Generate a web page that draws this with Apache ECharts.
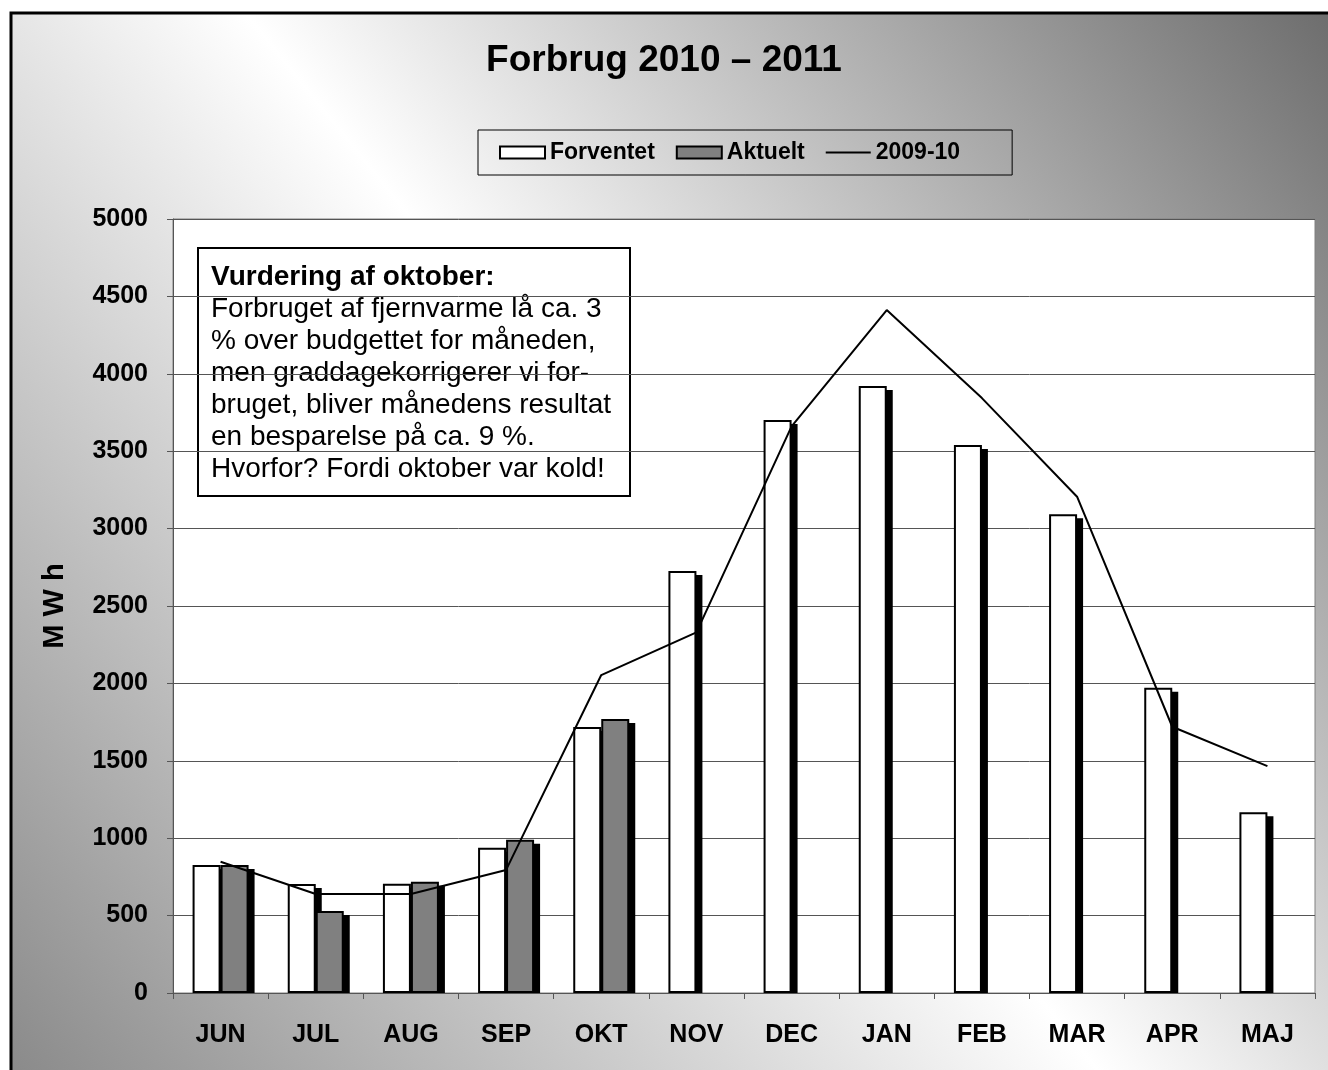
<!DOCTYPE html>
<html>
<head>
<meta charset="utf-8">
<script src="https://cdn.jsdelivr.net/npm/echarts@6/dist/echarts.min.js"></script>
<style>
html,body{margin:0;padding:0;background:#fff;}
#chart{width:1328px;height:1070px;}
</style>
</head>
<body>
<div id="chart"></div>
<script>
const categories = ['JUN','JUL','AUG','SEP','OKT','NOV','DEC','JAN','FEB','MAR','APR','MAJ'];
const forventet = [827, 704, 706, 939, 1718, 2726, 3702, 3921, 3540, 3092, 1972, 1167];
const aktuelt = [827, 530, 719, 990, 1770, null, null, null, null, null, null, null];
const prevYear = [848, 640, 640, 795, 2054, 2330, 3660, 4412, 3843, 3206, 1720, 1466];
const yTicks = [0, 500, 1000, 1500, 2000, 2500, 3000, 3500, 4000, 4500, 5000];

const FONT = 'Liberation Sans, Arial, sans-serif';
const BAR_W = 28, BORDER = 2, SH = 5;
const chart = echarts.init(document.getElementById('chart'), null, {renderer: 'canvas'});

const shadowData = categories.map((c, i) => [i, forventet[i], aktuelt[i] == null ? 0 : aktuelt[i]]);

chart.setOption({
  animation: false,
  backgroundColor: '#ffffff',
  graphic: [
    {
      type: 'rect', z: -100, silent: true,
      shape: {x: 11, y: 13, width: 1340, height: 1080},
      style: {
        fill: {type: 'linear', x: 1, y: 0, x2: 0, y2: 1, colorStops: [
          {offset: 0, color: '#6a6a6a'},
          {offset: 0.5, color: '#ffffff'},
          {offset: 1, color: '#888888'}
        ]},
        stroke: '#000', lineWidth: 3
      }
    },
    {
      type: 'group', left: 197, top: 247, z: 100,
      children: [
        {type: 'rect', shape: {x: 0, y: 0, width: 432, height: 248},
         style: {fill: '#fff', stroke: '#000', lineWidth: 2}},
        {type: 'text', x: 13, y: 13,
         style: {text: 'Vurdering af oktober:', font: 'bold 28px ' + FONT, fill: '#000',
                 lineHeight: 32, verticalAlign: 'top'}},
        {type: 'text', x: 13, y: 45,
         style: {text: 'Forbruget af fjernvarme lå ca. 3\n% over budgettet for måneden,\nmen graddagekorrigerer vi for-\nbruget, bliver månedens resultat\nen besparelse på ca. 9 %.\nHvorfor? Fordi oktober var kold!',
                 font: '28px ' + FONT, fill: '#000', lineHeight: 32, verticalAlign: 'top'}}
      ]
    }
  ],
  title: {
    text: 'Forbrug 2010 – 2011',
    left: 'center', top: 42, padding: 0,
    textStyle: {fontFamily: FONT, fontWeight: 'bold', fontSize: 37, color: '#000'}
  },
  legend: {
    left: 478, top: 130,
    padding: [11, 52, 11, 21],
    borderColor: '#000', borderWidth: 1,
    itemWidth: 45, itemHeight: 12, itemGap: 21,
    symbolKeepAspect: true,
    textStyle: {fontFamily: FONT, fontWeight: 'bold', fontSize: 23, color: '#000'},
    data: [
      {name: 'Forventet', icon: 'rect', itemStyle: {color: '#fff', borderColor: '#000', borderWidth: 2}},
      {name: 'Aktuelt', icon: 'rect', itemStyle: {color: '#808080', borderColor: '#000', borderWidth: 2}},
      {name: '2009-10', icon: 'path://M0,0L50,0L50,2L0,2Z', itemStyle: {color: '#000'}}
    ]
  },
  grid: {
    left: 173, right: 13, top: 219, bottom: 77,
    show: true, backgroundColor: '#fff', borderColor: '#808080', borderWidth: 1
  },
  xAxis: {
    type: 'category', data: categories,
    axisLine: {show: true, lineStyle: {color: '#555', width: 1}},
    axisTick: {show: true, length: 6, lineStyle: {color: '#555'}},
    axisLabel: {fontFamily: FONT, fontWeight: 'bold', fontSize: 25, color: '#000', margin: 30},
    splitLine: {show: false}
  },
  yAxis: {
    type: 'value', min: 0, max: 5000, interval: 500,
    name: 'M W h', nameLocation: 'middle', nameGap: 104, nameRotate: 90,
    nameTextStyle: {fontFamily: FONT, fontWeight: 'bold', fontSize: 29, color: '#000'},
    axisLine: {show: true, lineStyle: {color: '#555', width: 1}},
    axisTick: {show: true, length: 6, lineStyle: {color: '#555'}},
    axisLabel: {fontFamily: FONT, fontWeight: 'bold', fontSize: 25, color: '#000', margin: 25,
      formatter: v => yTicks.includes(v) ? String(v) : ''},
    splitLine: {show: true, lineStyle: {color: '#555', width: 1}}
  },
  series: [
    {
      name: 'skygge', type: 'custom', silent: true, z: 1,
      data: shadowData,
      encode: {x: 0, y: 1},
      renderItem: function (params, api) {
        const i = api.value(0);
        const base = api.coord([i, 0]);
        const children = [];
        [1, 2].forEach(function (dim, k) {
          const v = api.value(dim);
          if (!(v > 0)) return;
          const top = api.coord([i, v])[1];
          const x = base[0] - BAR_W + k * BAR_W - BORDER / 2 + SH;
          const y = top - BORDER / 2 + SH;
          children.push({type: 'rect', shape: {x: x, y: y, width: BAR_W + BORDER, height: base[1] - y},
                         style: {fill: '#000'}});
        });
        return {type: 'group', children: children};
      }
    },
    {
      name: 'Forventet', type: 'bar', data: forventet, z: 2,
      barWidth: BAR_W, barGap: '0%',
      itemStyle: {color: '#fff', borderColor: '#000', borderWidth: BORDER}
    },
    {
      name: 'Aktuelt', type: 'bar', data: aktuelt, z: 2,
      barWidth: BAR_W,
      itemStyle: {color: '#808080', borderColor: '#000', borderWidth: BORDER}
    },
    {
      name: '2009-10', type: 'line', data: prevYear,
      symbol: 'none', showSymbol: false, z: 5,
      lineStyle: {color: '#000', width: 2},
      itemStyle: {color: '#000'}
    }
  ]
});
</script>
</body>
</html>
